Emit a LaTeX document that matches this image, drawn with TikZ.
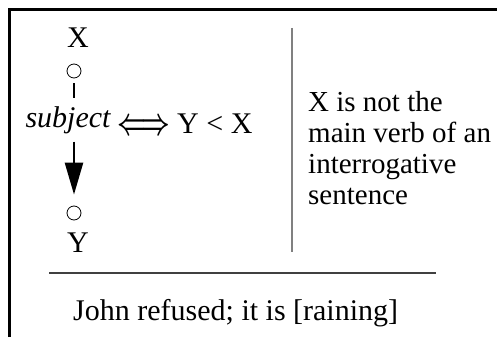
\documentclass[tikz,border=0pt]{standalone}
\usepackage{fontspec}
\setmainfont{Liberation Serif}
\usetikzlibrary{arrows.meta}
\usetikzlibrary{positioning}

\newcommand{\bigtext}{\fontsize{30}{31}\selectfont}

\begin{document}
\begin{tikzpicture}[x=1pt, y=-1pt, font=\bigtext,
    lbl/.style={inner sep=0pt},
    dot/.style={draw, circle, minimum size=14pt, inner sep=0pt, line width=0.8pt},
    link/.style={line width=2.5pt}]
    \useasboundingbox (0,0) rectangle (497,337);
    
    % frame
    \draw[line width=3pt] (9,337) -- (9,10) -- (497,10);
    
    \node [lbl, anchor=base] (lx) at (78,48) {X};
    \node [dot] (cx) at (74,71) {};
    \node [lbl, anchor=base, font=\bigtext\itshape] (subj) at (68,127) {subject};
    \node [dot] (cy) at (74,213) {};
    \node [lbl, anchor=base] (ly) at (78,252) {Y};
    \draw[link, shorten <=5pt, shorten >=8pt] (cx) -- (cx |- subj.north);
    \draw[link, -{Triangle[length=32pt, width=18pt]}, shorten <=8pt, shorten >=11pt] (cx |- subj.south) -- (cy);
    
    \node [lbl] (iff) at (144,127) {\scalebox{1.0}[1.5]{\boldmath$\Longleftrightarrow$}};
    \node [lbl, anchor=base west] (rel) at (177,133) {Y < X};
    
    \draw[gray, line width=1.5pt] (292,28) -- (292,252);
    \node [lbl, anchor=north west, align=left, font=\fontsize{29}{31}\selectfont] (cond) at (308,91) {X is not the\\main verb of an\\interrogative\\sentence};
    
    \draw[black!75, line width=1.5pt] (49,273) -- (436,273);
    \node [lbl, anchor=base west] (ex) at (73,320) {John refused; it is [raining]};
\end{tikzpicture}
\end{document}
